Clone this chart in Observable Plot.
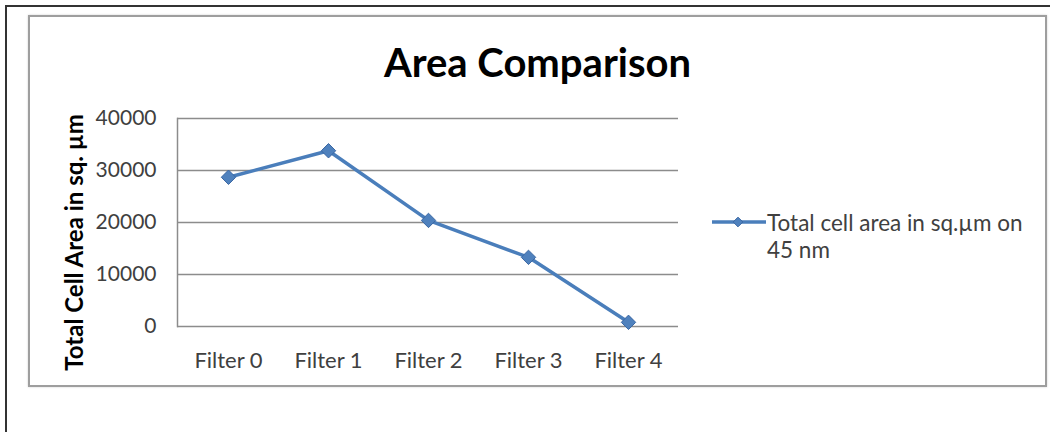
<!DOCTYPE html>
<html>
<head>
<meta charset="utf-8">
<script src="https://cdn.jsdelivr.net/npm/d3@7"></script>
<script src="https://cdn.jsdelivr.net/npm/@observablehq/plot@0.6"></script>
<style>
  html, body { margin: 0; padding: 0; background: #fff; }
  #wrap { position: relative; width: 1050px; height: 432px; overflow: hidden; background: #fff; font-family: Lato, "Open Sans", sans-serif; }
  #outer { position: absolute; left: 5px; top: 5px; width: 1070px; height: 460px; border: 2.5px solid #333; box-sizing: border-box; }
  #inner { position: absolute; left: 28px; top: 15px; width: 1019px; height: 372px; border: 2px solid #9e9e9e; box-sizing: border-box; box-shadow: 0 0 2px #cfcfcf; background: #fff; }
  #title { position: absolute; left: 28px; width: 1019px; top: 42px; text-align: center; font-weight: 700; font-size: 40px; line-height: 40px; color: #000; }
  #chart { position: absolute; left: 0; top: 0; }
  #legend-swatch { position: absolute; left: 712px; top: 214px; }
  #legend-text { position: absolute; left: 767px; top: 209px; font-size: 22.5px; line-height: 27px; color: #404040; width: 275px; }
</style>
</head>
<body>
<div id="wrap">
  <div id="outer"></div>
  <div id="inner"></div>
  <div id="title"></div>
  <div id="chart"></div>
  <svg id="legend-swatch" width="54" height="16"></svg>
  <div id="legend-text"></div>
</div>
<script>
// ---- data ----
const categories = ["Filter 0", "Filter 1", "Filter 2", "Filter 3", "Filter 4"];
const areaValues = [28700, 33800, 20400, 13300, 800];
const yTicks = [0, 10000, 20000, 30000, 40000];
const chartTitle = "Area Comparison";
const yAxisTitle = "Total Cell Area in sq. µm";
const seriesNameLines = ["Total cell area in sq.µm on", "45 nm"];

const lineColor = "#4a7ebb";
const markerFill = "#4f81bd";
const markerStroke = "#3a67a3";
const gridColor = "#8c8c8c";
const tickColor = "#404040";

const data = categories.map((c, i) => ({ category: c, value: areaValues[i] }));

document.getElementById("title").textContent = chartTitle;
document.getElementById("legend-text").innerHTML = seriesNameLines.map(s => `<div>${s}</div>`).join("");

const chart = Plot.plot({
  width: 1050,
  height: 432,
  marginLeft: 177,
  marginRight: 372,
  marginTop: 118,
  marginBottom: 106,
  style: { background: "transparent", fontFamily: "Lato, 'Open Sans', sans-serif", overflow: "visible" },
  x: { type: "point", domain: categories, padding: 0.5 },
  y: { domain: [0, 40000] },
  marks: [
    Plot.gridY(yTicks, { stroke: gridColor, strokeOpacity: 1, strokeWidth: 1.5 }),
    Plot.frame({ anchor: "left", stroke: gridColor, strokeWidth: 1.5 }),
    Plot.axisY(yTicks, { tickSize: 0, tickPadding: 21, fontSize: 21, fill: tickColor, label: null, tickFormat: d3.format("d") }),
    Plot.axisX({ tickSize: 0, tickPadding: 26, fontSize: 22, fill: tickColor, label: null }),
    Plot.line(data, { x: "category", y: "value", stroke: lineColor, strokeWidth: 3.5 }),
    Plot.dot(data, { x: "category", y: "value", symbol: "diamond2", r: 6.5, fill: markerFill, stroke: markerStroke, strokeWidth: 1 }),
    Plot.text([yAxisTitle], { frameAnchor: "left", rotate: -90, textAnchor: "middle", dx: -102, dy: 20, fontSize: 24, fontWeight: "bold", fill: "#000" })
  ]
});
document.getElementById("chart").appendChild(chart);

// legend swatch (line + diamond) in the series style
const sw = d3.select("#legend-swatch");
sw.append("line").attr("x1", 0).attr("x2", 54).attr("y1", 8).attr("y2", 8).attr("stroke", lineColor).attr("stroke-width", 3.5);
sw.append("path").attr("d", d3.symbol(d3.symbolDiamond2, 60)()).attr("transform", "translate(26,8)").attr("fill", markerFill).attr("stroke", markerStroke);
</script>
</body>
</html>
